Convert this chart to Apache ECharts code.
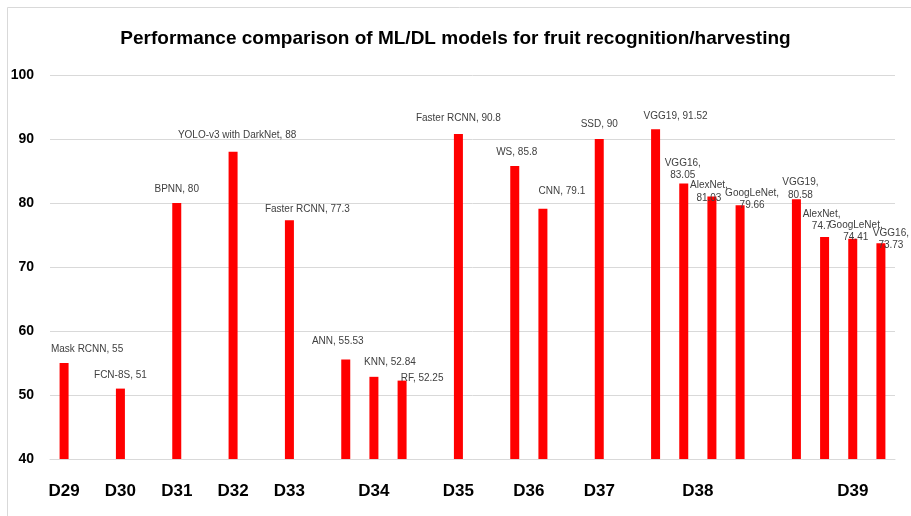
<!DOCTYPE html>
<html>
<head>
<meta charset="utf-8">
<title>Fruit recognition models</title>
<script src="https://cdn.jsdelivr.net/npm/echarts@6/dist/echarts.min.js"></script>
<style>
  html, body { margin: 0; padding: 0; background: #fff; }
  #main { width: 911px; height: 516px; }
</style>
</head>
<body>
<div id="main"></div>
<script>
'use strict';

/* ===== data, one slot per column (blank slots keep the gaps) ===== */
const groupLabels = ['D29', '', 'D30', '', 'D31', '', 'D32', '', 'D33', '', '', 'D34', '', '', 'D35', '',
  'D36', '', '', 'D37', '', '', 'D38', '', '', '', '', '', 'D39', ''];

const models = ['Mask RCNN', '', 'FCN-8S', '', 'BPNN', '', 'YOLO-v3 with DarkNet', '', 'Faster RCNN', '',
  'ANN', 'KNN', 'RF', '', 'Faster RCNN', '', 'WS', 'CNN', '', 'SSD', '',
  'VGG19', 'VGG16', 'AlexNet', 'GoogLeNet', '', 'VGG19', 'AlexNet', 'GoogLeNet', 'VGG16'];

const scores = [55, null, 51, null, 80, null, 88, null, 77.3, null,
  55.53, 52.84, 52.25, null, 90.8, null, 85.8, 79.1, null, 90, null,
  91.52, 83.05, 81.03, 79.66, null, 80.58, 74.7, 74.41, 73.73];

const yTicks = [40, 50, 60, 70, 80, 90, 100];

// labels that sit on two lines in the original
const wrapped = [22, 23, 24, 26, 27, 28, 29];
// group labels that sit between two columns
const halfStep = [16, 22];

// small nudges of the value labels (px), like the hand-moved ones in the source chart
const labelNudge = {
  0: [23, -7.5], 2: [0, -7], 4: [0, -7.5], 6: [4, -10.5], 8: [18, -4.5],
  10: [-8, -12], 11: [16, -8.5], 12: [20, 4], 14: [0, -9.5], 16: [2, -7.5],
  17: [19, -11.5], 19: [0, -8.5], 21: [20, -6.5], 22: [-1, -8], 23: [-3, 1.5],
  24: [12, 0.5], 26: [4, -4.5], 27: [-3, -10.5], 28: [3, -1.5], 29: [10, 2.5]
};

const labelFont = '"Liberation Sans", Arial, sans-serif';
const boldFont = '"Liberation Sans", Arial, sans-serif';

var myChart = echarts.init(document.getElementById('main'));

var option = {
  backgroundColor: '#fff',
  animation: false,
  title: {
    text: 'Performance comparison of ML/DL models for fruit recognition/harvesting',
    left: 'center',
    top: 24,
    textStyle: { fontFamily: boldFont, fontSize: 19, fontWeight: 'bold', color: '#000' }
  },
  graphic: [{
    type: 'rect',
    shape: { x: 7.5, y: 7.5, width: 930, height: 530 },
    style: { fill: null, stroke: '#d9d9d9', lineWidth: 1 },
    silent: true
  }],
  grid: { left: 50, right: 16, top: 75, bottom: 57 },
  xAxis: {
    type: 'category',
    data: groupLabels,
    axisTick: { show: false },
    axisLine: { lineStyle: { color: '#d9d9d9' } },
    axisLabel: {
      interval: 0,
      margin: 24,
      formatter: function (val, idx) {
        if (!val) return '';
        return halfStep.indexOf(idx) >= 0 ? '{s|' + val + '}' : '{n|' + val + '}';
      },
      rich: {
        n: { fontFamily: boldFont, fontSize: 17, fontWeight: 'bold', color: '#000' },
        s: { fontFamily: boldFont, fontSize: 17, fontWeight: 'bold', color: '#000', padding: [0, 0, 0, 28] }
      }
    }
  },
  yAxis: {
    type: 'value',
    min: yTicks[0],
    max: yTicks[yTicks.length - 1],
    interval: 10,
    axisLine: { show: false },
    axisTick: { show: false },
    splitLine: { lineStyle: { color: '#d9d9d9' } },
    axisLabel: { margin: 16, fontFamily: boldFont, fontSize: 14, fontWeight: 'bold', color: '#000' }
  },
  series: [{
    type: 'bar',
    barWidth: 9,
    itemStyle: { color: '#ff0000' },
    label: {
      show: true,
      position: 'top',
      distance: 0,
      fontFamily: labelFont,
      fontSize: 10,
      lineHeight: 12.5,
      color: '#404040',
      formatter: function (p) {
        var sep = wrapped.indexOf(p.dataIndex) >= 0 ? ',\n' : ', ';
        return models[p.dataIndex] + sep + p.value;
      }
    },
    data: scores.map(function (v, i) {
      if (v == null) return '-';
      var nudge = labelNudge[i] || [0, 0];
      var extra = wrapped.indexOf(i) >= 0 ? 6.25 : 0;
      return { value: v, label: { offset: [nudge[0], nudge[1] + extra] } };
    })
  }]
};

myChart.setOption(option);
</script>
</body>
</html>
